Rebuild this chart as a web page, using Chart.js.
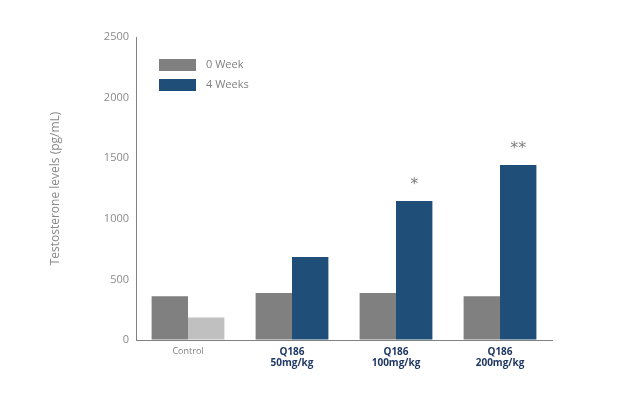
<!DOCTYPE html>
<html>
<head>
<meta charset="utf-8">
<script src="https://cdn.jsdelivr.net/npm/chart.js@4"></script>
<style>
  html, body { margin: 0; padding: 0; background: #fff; }
  #wrap { width: 629px; height: 398px; }
</style>
</head>
<body>
<div id="wrap"><canvas id="grafico"></canvas></div>
<script>
// Datos
const categorias = ['Control', ['Q186', '50mg/kg'], ['Q186', '100mg/kg'], ['Q186', '200mg/kg']];
const semana0 = [360, 387, 387, 362];
const semana4 = [186, 684, 1147, 1444];
const significancia = ['', '', '*', '**'];
const ticksY = [0, 500, 1000, 1500, 2000, 2500];

const gris = '#808080';
const azul = '#1f4e79';
const grisClaro = '#c0c0c0';

// Leyenda dibujada dentro del área del gráfico
const leyendaInterna = {
  id: 'leyendaInterna',
  afterDraw(chart) {
    const { ctx, chartArea } = chart;
    const colores = [gris, azul];
    ctx.save();
    ctx.font = '11px "Open Sans"';
    ctx.textBaseline = 'middle';
    chart.data.datasets.forEach((ds, i) => {
      const y = chartArea.top + 28 + i * 20;
      ctx.fillStyle = colores[i];
      ctx.fillRect(chartArea.left + 23, y - 6, 37, 12);
      ctx.fillStyle = '#7f7f7f';
      ctx.fillText(ds.label, chartArea.left + 70, y);
    });
    ctx.restore();
  }
};

// Asteriscos de significancia sobre las barras de 4 semanas
const asteriscos = {
  id: 'asteriscos',
  afterDatasetsDraw(chart) {
    const { ctx } = chart;
    const meta = chart.getDatasetMeta(1);
    ctx.save();
    ctx.font = '16px "DejaVu Sans"';
    ctx.fillStyle = '#7f7f7f';
    ctx.textAlign = 'center';
    ctx.textBaseline = 'middle';
    meta.data.forEach((barra, i) => {
      if (significancia[i]) ctx.fillText(significancia[i], barra.x, barra.y - 16);
    });
    ctx.restore();
  }
};

const ctx = document.getElementById('grafico').getContext('2d');
new Chart(ctx, {
  type: 'bar',
  data: {
    labels: categorias,
    datasets: [
      { label: '0 Week', data: semana0, backgroundColor: gris },
      { label: '4 Weeks', data: semana4, backgroundColor: semana4.map((_, i) => i === 0 ? grisClaro : azul) },
    ],
  },
  options: {
    responsive: true,
    maintainAspectRatio: false,
    animation: false,
    layout: { padding: { left: 44, right: 77, top: 37, bottom: 0 } },
    categoryPercentage: 0.7,
    barPercentage: 1.0,
    plugins: {
      legend: { display: false },
      tooltip: { enabled: false },
    },
    scales: {
      x: {
        grid: { display: true, drawOnChartArea: false, drawTicks: false },
        border: { color: '#808080', width: 1 },
        afterFit: scale => { scale.height = 58; },
        ticks: {
          padding: 6,
          autoSkip: false,
          maxRotation: 0,
          color: c => c.index === 0 ? '#808080' : '#203864',
          font: c => c.index === 0
            ? { family: '"Open Sans"', size: 9 }
            : { family: '"Open Sans"', size: 10, weight: 'bold', lineHeight: 1.15 },
        },
      },
      y: {
        min: 0,
        max: 2500,
        afterBuildTicks: scale => { scale.ticks = ticksY.map(v => ({ value: v })); },
        afterFit: scale => { scale.width = 92; },
        grid: { display: true, drawOnChartArea: false, drawTicks: false },
        border: { color: '#808080', width: 1 },
        ticks: {
          padding: 7,
          color: '#8a8a8a',
          font: { family: '"Open Sans"', size: 11 },
          callback: valor => String(valor),
        },
        title: {
          display: true,
          text: 'Testosterone levels (pg/mL)',
          color: '#8a8a8a',
          font: { family: '"Open Sans"', size: 12 },
        },
      },
    },
  },
  plugins: [leyendaInterna, asteriscos],
});
</script>
</body>
</html>
